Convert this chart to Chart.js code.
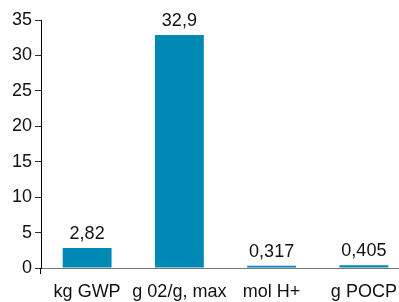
<!DOCTYPE html>
<html><head><meta charset="utf-8">
<script src="https://cdn.jsdelivr.net/npm/chart.js@4"></script>
<style>html,body{margin:0;padding:0;background:#fff;overflow:hidden;width:399px;height:302px}#w{width:412px;height:302px}</style>
</head><body><div id="w"><canvas id="c" width="412" height="302"></canvas></div>
<script>
const categories = ['kg GWP', 'g 02/g, max', 'mol H+', 'g POCP'];
const values = [2.82, 32.9, 0.317, 0.405];
const valueLabels = ['2,82', '32,9', '0,317', '0,405'];
const yTicks = [0, 5, 10, 15, 20, 25, 30, 35];

const FONT = 'Liberation Sans, Arial, sans-serif';
const labelPlugin = {
  id: 'valLabels',
  afterDatasetsDraw(chart) {
    const ctx = chart.ctx;
    const meta = chart.getDatasetMeta(0);
    ctx.save();
    ctx.font = '18px ' + FONT;
    ctx.fillStyle = '#111';
    ctx.textAlign = 'center';
    ctx.textBaseline = 'bottom';
    meta.data.forEach((bar, i) => {
      ctx.fillText(valueLabels[i], bar.x, bar.y - 5);
    });
    const x = chart.scales.y.left + chart.scales.y.width;
    const y0 = chart.scales.y.getPixelForValue(0);
    ctx.strokeStyle = '#000';
    ctx.lineWidth = 1;
    ctx.beginPath();
    ctx.moveTo(Math.round(x) - 0.5, y0);
    ctx.lineTo(Math.round(x) - 0.5, y0 + 6);
    ctx.stroke();
    ctx.restore();
  }
};

new Chart(document.getElementById('c'), {
  type: 'bar',
  data: {
    labels: categories,
    datasets: [{
      data: values,
      backgroundColor: '#0189b6',
      borderWidth: 0,
      barPercentage: 0.53,
      categoryPercentage: 1.0
    }]
  },
  options: {
    responsive: false,
    animation: false,
    devicePixelRatio: 1,
    layout: { padding: { top: 20, right: 2, left: 0, bottom: 0 } },
    plugins: { legend: { display: false }, tooltip: { enabled: false } },
    scales: {
      x: {
        afterFit(s) { s.height = 34; },
        grid: { display: false },
        border: { display: true, color: '#777' },
        ticks: { font: { size: 18, family: FONT }, color: '#111', padding: 5, maxRotation: 0, autoSkip: false }
      },
      y: {
        min: 0, max: 35,
        afterBuildTicks(s) { s.ticks = yTicks.map(v => ({ value: v })); },
        afterFit(s) { s.width = 41; },
        grid: { drawOnChartArea: false, drawTicks: true, tickLength: 6, color: '#333' },
        border: { display: true, color: '#000' },
        ticks: { font: { size: 18, family: FONT }, color: '#111', padding: 3 }
      }
    }
  },
  plugins: [labelPlugin]
});
</script></body></html>
